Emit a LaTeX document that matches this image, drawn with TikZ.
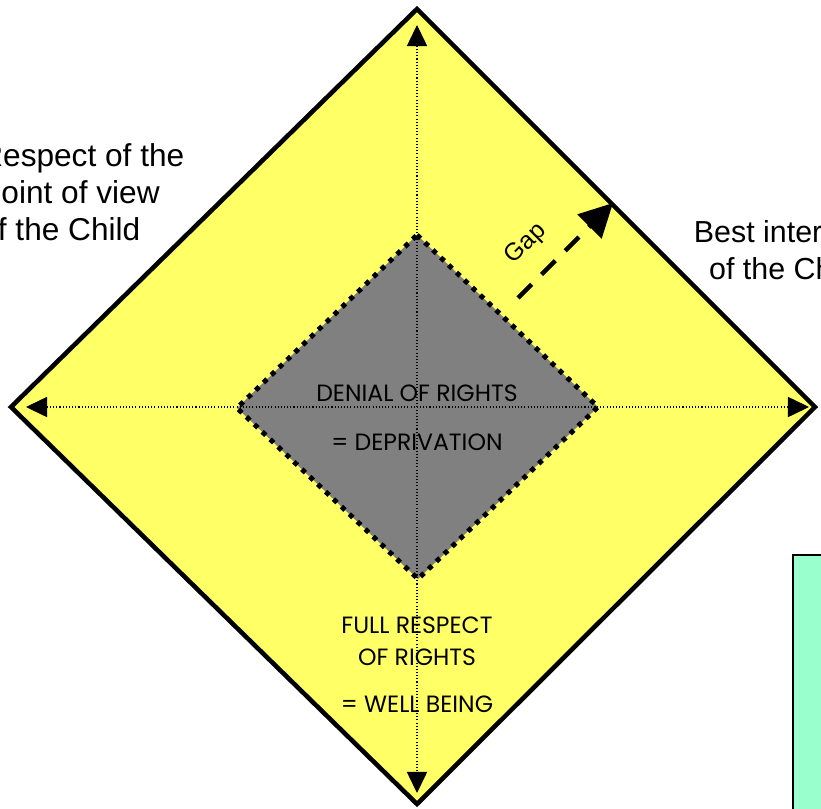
\documentclass[tikz,border=0pt]{standalone}
\usepackage{fontspec}
\setmainfont{Liberation Sans}
\newfontfamily\geofont{Poppins}
\usetikzlibrary{arrows.meta}

\definecolor{padyellow}{RGB}{255,255,102}
\definecolor{coregray}{RGB}{128,128,128}
\definecolor{notegreen}{RGB}{153,255,204}

\begin{document}
\begin{tikzpicture}[x=0.02cm, y=-0.02cm,
    axisline/.style={line width=0.6pt, dash pattern=on 0.6pt off 1.2pt,
      {Triangle[length=12pt,width=11.5pt]}-{Triangle[length=12pt,width=11.5pt]}},
    sidelabel/.style={font=\fontsize{17.3}{21}\selectfont, inner sep=0pt},
    corelabel/.style={font=\geofont\fontsize{13.4}{18}\selectfont, inner sep=0pt, align=center}]
  \useasboundingbox (0,0) rectangle (821,808);
  \clip (0,0) rectangle (821,808);

  % --- outer diamond ---
  \coordinate (N) at (417,9);
  \coordinate (E) at (815,407);
  \coordinate (S) at (417,804);
  \coordinate (W) at (11,407);
  \draw[line width=2.6pt, fill=padyellow] (N) -- (E) -- (S) -- (W) -- cycle;

  % --- inner diamond ---
  \coordinate (n) at (417,235);
  \coordinate (e) at (598,407);
  \coordinate (s) at (418,579);
  \coordinate (w) at (237,408);
  \draw[line width=2.8pt, dash pattern=on 2.8pt off 3.4pt, fill=coregray]
    (n) -- (e) -- (s) -- (w) -- cycle;

  % --- axes ---
  \coordinate (axN) at (417,25);
  \coordinate (axS) at (417,793);
  \coordinate (axW) at (26,407);
  \coordinate (axE) at (809,407);
  \draw[axisline] (axW) -- (axE);
  \draw[axisline] (axN) -- (axS);

  % --- gap ---
  \coordinate (gapfrom) at (518,298);
  \coordinate (gapto) at (613,203);
  \draw[line width=2.6pt, dash pattern=on 11pt off 8pt, -{Triangle[length=19pt,width=19pt]}]
    (gapfrom) -- (gapto);
  \node[rotate=45, font=\fontsize{14}{16}\selectfont, inner sep=0pt] (gap) at (526,244) {Gap};

  % --- labels ---
  \node[sidelabel, font=\fontsize{18}{21}\selectfont, align=left, anchor=north west] (view) at (-20,143)
    {Respect of the\\Point of view\\of the Child};
  \node[sidelabel, align=center, anchor=north] (interest) at (786,220)
    {Best interests\\of the Child};
  \node[corelabel] (denial) at (417,418) {DENIAL OF RIGHTS\\[10pt]= DEPRIVATION};
  \node[corelabel] (respect) at (417,665) {FULL RESPECT\\OF RIGHTS\\[9pt]= WELL BEING};

  % --- note box ---
  \draw[line width=1.5pt, fill=notegreen] (793,555) rectangle (840,830);
\end{tikzpicture}
\end{document}
